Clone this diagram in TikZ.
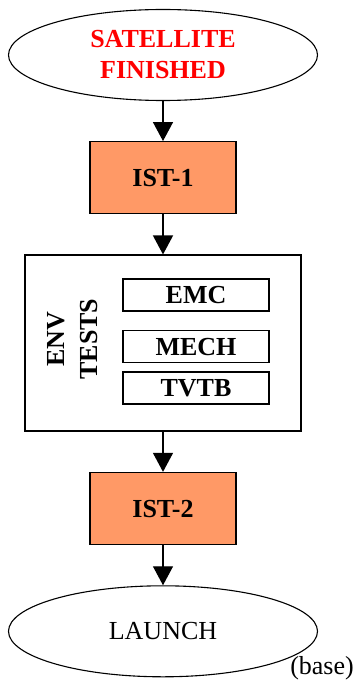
\documentclass[tikz,border=0pt]{standalone}
\usepackage{fontspec}
\setmainfont{Liberation Serif}
\usepackage{xcolor}
\usetikzlibrary{arrows.meta,positioning,shapes.geometric}

\definecolor{istorange}{HTML}{FF9966}

\begin{document}
\begin{tikzpicture}[
        node distance=40pt,
        terminal/.style={draw, ellipse, line width=1.1pt, minimum width=309pt, minimum height=91pt, inner sep=0pt, align=center, font=\fontsize{26}{31}\selectfont},
        block/.style={draw, line width=1.4pt, fill=istorange, minimum width=146pt, minimum height=72pt, font=\fontsize{26}{31}\selectfont\bfseries},
        testbox/.style={draw, line width=1.4pt, minimum width=146pt, minimum height=32pt, inner sep=0pt, font=\fontsize{26}{31}\selectfont\bfseries},
        line/.style={-{Triangle[length=19pt,width=20pt]}, line width=1.4pt}
    ]
        \useasboundingbox (-163pt,55pt) rectangle (191pt,-627pt);
        \node[terminal, font=\fontsize{26}{31}\selectfont\bfseries, text=red] (sat) {SATELLITE\\FINISHED};
        \node[block, below=of sat] (ist1) {IST-1};
        \node[draw, line width=1.4pt, minimum width=276pt, minimum height=176pt, below=of ist1] (env) {};
        \node[rotate=90, align=center, font=\fontsize{26}{33}\selectfont\bfseries] (envlbl) at ([xshift=-90pt,yshift=4pt]env.center) {ENV\\TESTS};
        \node[testbox] (emc) at ([xshift=33pt,yshift=48pt]env.center) {EMC};
        \node[testbox, below=18pt of emc] (mech) {MECH};
        \node[testbox, below=8pt of mech] (tvtb) {TVTB};
        \node[block, below=of env] (ist2) {IST-2};
        \node[terminal, below=of ist2] (launch) {LAUNCH};
        \node[anchor=east, inner sep=0pt, font=\fontsize{26}{31}\selectfont] (base) at (191pt,-613pt) {(base)};
        \draw[line] (sat) -- (ist1);
        \draw[line] (ist1) -- (env);
        \draw[line] (env) -- (ist2);
        \draw[line] (ist2) -- (launch);
    \end{tikzpicture}
\end{document}
